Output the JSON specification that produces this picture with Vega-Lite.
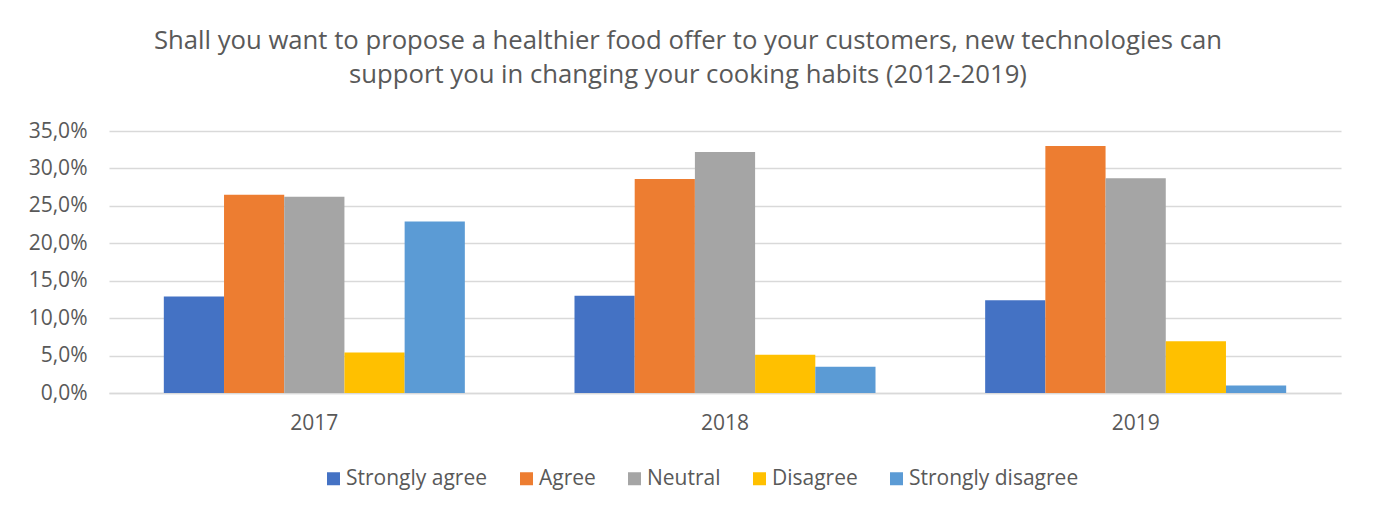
{
  "$schema": "https://vega.github.io/schema/vega-lite/v6.json",
  "autosize": "none",
  "width": 1232,
  "height": 262,
  "padding": {"left": 109, "top": 131, "right": 35, "bottom": 117},
  "background": "white",
  "config": {
    "font": "Open Sans",
    "view": {"stroke": null}
  },
  "title": {
    "text": ["Shall you want to propose a healthier food offer to your customers, new technologies can", "support you in changing your cooking habits (2012-2019)"],
    "fontSize": 25.7,
    "fontWeight": "normal",
    "color": "#595959",
    "anchor": "middle",
    "dx": -37,
    "offset": 31,
    "lineHeight": 34
  },
  "data": {
    "values": [
      {"year": "2017", "answer": "Strongly agree", "pct": 12.9},
      {"year": "2017", "answer": "Agree", "pct": 26.5},
      {"year": "2017", "answer": "Neutral", "pct": 26.2},
      {"year": "2017", "answer": "Disagree", "pct": 5.4},
      {"year": "2017", "answer": "Strongly disagree", "pct": 22.9},
      {"year": "2018", "answer": "Strongly agree", "pct": 13.0},
      {"year": "2018", "answer": "Agree", "pct": 28.6},
      {"year": "2018", "answer": "Neutral", "pct": 32.2},
      {"year": "2018", "answer": "Disagree", "pct": 5.1},
      {"year": "2018", "answer": "Strongly disagree", "pct": 3.5},
      {"year": "2019", "answer": "Strongly agree", "pct": 12.4},
      {"year": "2019", "answer": "Agree", "pct": 33.0},
      {"year": "2019", "answer": "Neutral", "pct": 28.7},
      {"year": "2019", "answer": "Disagree", "pct": 6.9},
      {"year": "2019", "answer": "Strongly disagree", "pct": 1.0}
    ]
  },
  "mark": {"type": "bar"},
  "encoding": {
    "x": {
      "field": "year",
      "type": "nominal",
      "scale": {"paddingInner": 0.267, "paddingOuter": 0.1335},
      "axis": {
        "title": null,
        "labelAngle": 0,
        "labelFontSize": 21,
        "labelColor": "#595959",
        "labelPadding": 19,
        "ticks": false,
        "domainColor": "#D9D9D9",
        "domainWidth": 1.5
      }
    },
    "xOffset": {
      "field": "answer",
      "type": "nominal",
      "sort": ["Strongly agree", "Agree", "Neutral", "Disagree", "Strongly disagree"],
      "scale": {"paddingInner": 0, "paddingOuter": 0}
    },
    "y": {
      "field": "pct",
      "type": "quantitative",
      "scale": {"domain": [0, 35], "nice": false},
      "axis": {
        "title": null,
        "values": [0, 5, 10, 15, 20, 25, 30, 35],
        "labelExpr": "replace(format(datum.value, '.1f'), '.', ',') + '%'",
        "labelFontSize": 21,
        "labelColor": "#595959",
        "labelPadding": 22,
        "ticks": false,
        "domain": false,
        "gridColor": "#D9D9D9",
        "gridWidth": 1.5
      }
    },
    "color": {
      "field": "answer",
      "type": "nominal",
      "sort": ["Strongly agree", "Agree", "Neutral", "Disagree", "Strongly disagree"],
      "scale": {
        "domain": ["Strongly agree", "Agree", "Neutral", "Disagree", "Strongly disagree"],
        "range": ["#4472C4", "#ED7D31", "#A5A5A5", "#FFC000", "#5B9BD5"]
      },
      "legend": {
        "title": null,
        "orient": "none",
        "direction": "horizontal",
        "legendX": 214,
        "legendY": 337,
        "symbolType": "square",
        "symbolSize": 169,
        "symbolStrokeWidth": 0,
        "labelFontSize": 21,
        "labelColor": "#595959",
        "labelOffset": 2,
        "labelLimit": 400,
        "columnPadding": 28
      }
    }
  }
}
